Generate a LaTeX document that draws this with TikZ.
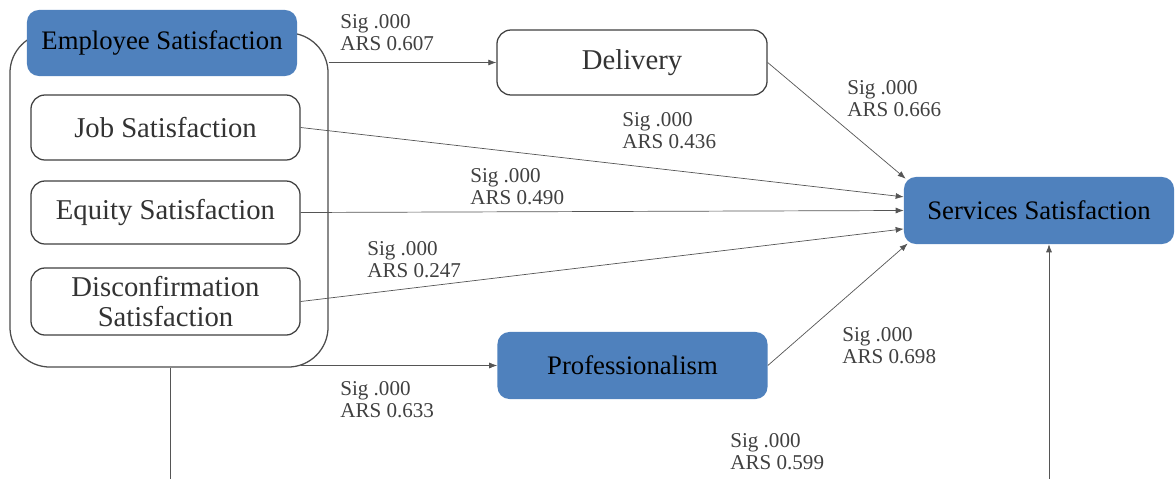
\documentclass[tikz,border=0pt]{standalone}
\usepackage{fontspec}
\setmainfont{Liberation Serif}
\usetikzlibrary{arrows.meta}
\definecolor{boxblue}{HTML}{4F81BD}
\definecolor{linegray}{HTML}{555555}
\tikzset{
  whitebox/.style={draw=black!75, line width=0.9pt, fill=white, rounded corners=0.35cm,
    minimum width=6.725cm, text=black!80, font=\fontsize{20.4}{21}\selectfont, align=center},
  bluebox/.style={fill=boxblue, rounded corners=0.3cm, minimum width=6.75cm,
    minimum height=1.65cm, text=black, font=\fontsize{19}{20}\selectfont},
  lbl/.style={anchor=west, inner sep=0pt, align=left, text=black!75,
    font=\fontsize{15}{15.6}\selectfont},
  conn/.style={draw=linegray, line width=0.5pt, -{Latex[length=2mm,width=1.5mm]}}
}
\begin{document}
\begin{tikzpicture}[x=0.025cm, y=-0.025cm]
        \useasboundingbox (0,0) rectangle (1175,479);
        % big group round the employee side
        \node[draw=black!70, line width=0.9pt, rounded corners=1cm, minimum width=7.95cm,
              minimum height=8.35cm] (grp) at (169,200) {};
        % employee side
        \node[bluebox] (emp) at (162,43) {Employee Satisfaction};
        \node[whitebox, minimum height=1.625cm] (job) at (165.5,127.5) {Job Satisfaction};
        \node[whitebox, minimum height=1.575cm] (equ) at (165.5,212.5) {Equity Satisfaction};
        \node[whitebox, minimum height=1.675cm] (dis) at (165.5,301.5) {Disconfirmation\\Satisfaction};
        % middle boxes
        \node[whitebox, minimum width=6.75cm, minimum height=1.625cm] (del) at (632,62.5) {Delivery};
        \node[bluebox, minimum height=1.675cm] (pro) at (632.5,365.5) {Professionalism};
        % target
        \node[bluebox, minimum width=6.75cm, minimum height=1.675cm] (ser) at (1039,210.5) {Services Satisfaction};
        % free ends at the bottom
        \coordinate (bl) at (170,479);
        \coordinate (br) at (1049,479);
        % connectors
        \draw[conn] (grp.east |- del.west) -- (del.west);
        \draw[conn] (pro.west -| dis.east) -- (pro.west);
        \draw[conn] (job.east) -- ([yshift=0.34cm]ser.west);
        \draw[conn] (equ.east) -- (ser.west);
        \draw[conn] (dis.east) -- ([yshift=-0.46cm]ser.west);
        \draw[conn] (del.east) -- ([xshift=0.05cm,yshift=-0.05cm]ser.north west);
        \draw[conn] (pro.east) -- ([xshift=0.1cm,yshift=0.02cm]ser.south west);
        \draw[draw=linegray, line width=0.6pt] (grp.south -| bl) -- (bl);
        \draw[conn] (br) -- (br |- ser.south);
        % path values
        \foreach \x/\y/\v [count=\i] in {340/33/0.607, 622/131/0.436, 470/187/0.490,
                367/260/0.247, 847/99/0.666, 842/346/0.698, 340/400/0.633, 730/452/0.599}
        \node[lbl] (lab\i) at (\x,\y) {Sig .000\\ARS \v};
    \end{tikzpicture}
\end{document}
